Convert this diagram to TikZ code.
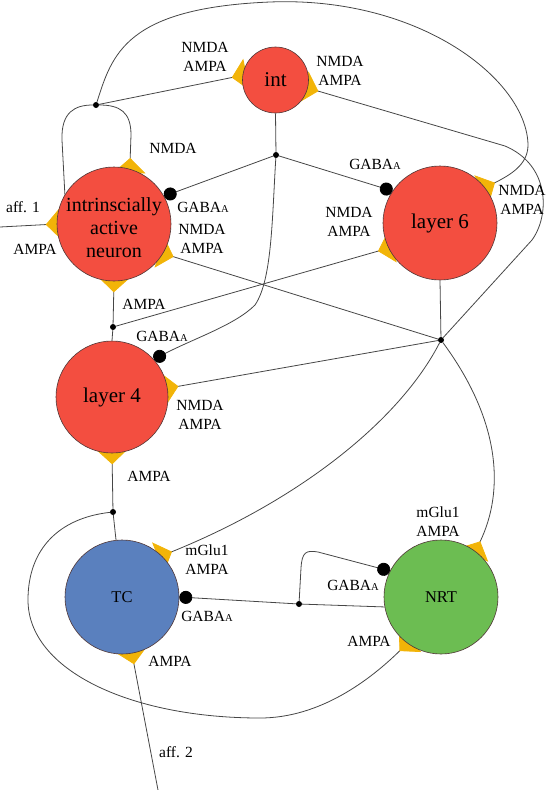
\documentclass[tikz,border=0pt]{standalone}
\usepackage{fontspec}
\setmainfont{Liberation Serif}
\usetikzlibrary{arrows.meta,backgrounds}
\definecolor{neured}{RGB}{243,78,64}
\definecolor{tcblue}{RGB}{90,128,190}
\definecolor{nrtgreen}{RGB}{108,189,82}
\definecolor{synyel}{RGB}{242,180,8}
\definecolor{wirecol}{RGB}{70,70,70}
\definecolor{rimcol}{RGB}{80,55,55}
\newcommand{\gabaa}{GABA{\fontsize{10.5}{12}\selectfont A}}
\begin{document}
\begin{tikzpicture}[x=1pt,y=-1pt,
  neuron/.style={circle, draw=rimcol, line width=0.6pt, inner sep=0pt, fill=neured},
  junc/.style={circle, fill=black, inner sep=0pt, minimum size=6pt},
  wire/.style={draw=wirecol, line width=0.8pt},
  syn/.style={wire, shorten >=-4pt, -{Triangle[reversed,length=15pt,width=32pt,color=synyel]}},
  gaba/.style={wire, -{Circle[length=13pt,color=black]}},
  lab/.style={font=\fontsize{15.5}{19}\selectfont, align=center, inner sep=0pt},
  big/.style={font=\fontsize{21}{24}\selectfont, align=center},
]
\useasboundingbox (0,0) rectangle (551,790);

% neurons
\node[neuron, minimum size=66pt, big] (int) at (275.5,80) {int};
\node[neuron, minimum size=114pt] (intr) at (114,224) {};
\node[font=\fontsize{20}{23}\selectfont, align=center, inner sep=0pt] (intrtxt) at (114,228) {intrinscially\\active\\neuron};
\node[neuron, minimum size=114pt, big] (l6) at (440,223) {layer 6};
\node[neuron, minimum size=112pt, big] (l4) at (112,397) {layer 4};
\node[neuron, minimum size=114pt, fill=tcblue, font=\fontsize{16.5}{19}\selectfont] (tc) at (122,597) {TC};
\node[neuron, minimum size=114pt, fill=nrtgreen, font=\fontsize{16.5}{19}\selectfont] (nrt) at (441,597) {NRT};

% junctions
\node[junc] (A) at (96,105) {};
\node[junc] (B) at (276,155) {};
\node[junc] (C) at (113,327) {};
\node[junc] (D) at (441,340) {};
\node[junc] (E) at (113,512) {};
\node[junc] (F) at (299,604) {};
\coordinate (aff1) at (0,227);
\coordinate (aff2) at (158,790);

% labels
\node[lab] (lIntL) at (205,57) {NMDA\\AMPA};
\node[lab] (lIntR) at (340,71) {NMDA\\AMPA};
\node[lab] (lSelf) at (173,148) {NMDA};
\node[lab] (lIgab) at (203,207) {\gabaa};
\node[lab] (lInm) at (202,239) {NMDA\\AMPA};
\node[lab] (lAff1) at (23,207) {aff. 1};
\node[lab] (lIamL) at (35,249) {AMPA};
\node[lab] (lIamB) at (144,304) {AMPA};
\node[lab] (l4gab) at (162,336) {\gabaa};
\node[lab] (l4nm) at (200,415) {NMDA\\AMPA};
\node[lab] (l4am) at (149,476) {AMPA};
\node[lab] (l6gab) at (375,164) {\gabaa};
\node[lab] (l6nmL) at (349,222) {NMDA\\AMPA};
\node[lab] (l6nmR) at (522,200) {NMDA\\AMPA};
\node[lab] (tcmg) at (207,560) {mGlu1\\AMPA};
\node[lab] (tcgab) at (207,616) {\gabaa};
\node[lab] (tcam) at (170,661) {AMPA};
\node[lab] (lAff2) at (176,752) {aff. 2};
\node[lab] (nrtmg) at (438,522) {mGlu1\\AMPA};
\node[lab] (nrtgab) at (353,585) {\gabaa};
\node[lab] (nrtam) at (369,641) {AMPA};

\begin{pgfonlayer}{background}
% intrinsic neuron axon
\draw[wire] (intr.149) -- (62,140) .. controls (61,112) and (75,105) .. (A);
\draw[syn] (A) .. controls (120,105) and (131,112) .. (131,135) -- (intr.74);
\draw[syn] (A) -- (int.172);
\draw[syn] (A) .. controls (112,55) and (125,8) .. (270,2)
   .. controls (420,-4) and (527,80) .. (528,145)
   .. controls (528,165) and (510,175) .. (l6.38);
% int axon
\draw[wire] (int.south) -- (B);
\draw[gaba] (B) -- (intr.29);
\draw[gaba] (B) -- (l6.146);
\draw[gaba] (B) .. controls (272,220) and (272,280) .. (255,305)
   .. controls (235,325) and (195,338) .. (l4.42);
% layer 6 axon
\draw[wire] (l6.south) -- (D);
\draw[syn] (D) -- (intr.-31);
\draw[syn] (D) -- (l4.9);
\draw[syn] (D) -- (532,240) .. controls (550,215) and (550,165) .. (505,146) -- (int.-14);
\draw[syn] (D) .. controls (400,420) and (300,500) .. (tc.46);
\draw[syn] (D) .. controls (500,420) and (505,490) .. (nrt.53);
% layer 4 axon
\draw[wire] (l4.north) -- (C);
\draw[syn] (C) -- (intr.south);
\draw[syn] (C) -- (l6.206);
% TC axon
\draw[wire] (tc.96) -- (E);
\draw[syn] (E) -- (l4.south);
\draw[syn] (E) .. controls (60,518) and (28,548) .. (28,600)
   .. controls (28,670) and (130,718) .. (260,718)
   .. controls (320,718) and (370,680) .. (nrt.234);
% NRT axon
\draw[wire] (nrt.190) -- (F);
\draw[gaba] (F) -- (tc.east);
\draw[gaba] (F) -- (301,568) .. controls (302,552) and (306,550) .. (318,552) -- (nrt.153);
% afferents
\draw[syn] (aff1) -- (intr.180);
\draw[syn] (aff2) -- (tc.-80);
\end{pgfonlayer}
\end{tikzpicture}
\end{document}
